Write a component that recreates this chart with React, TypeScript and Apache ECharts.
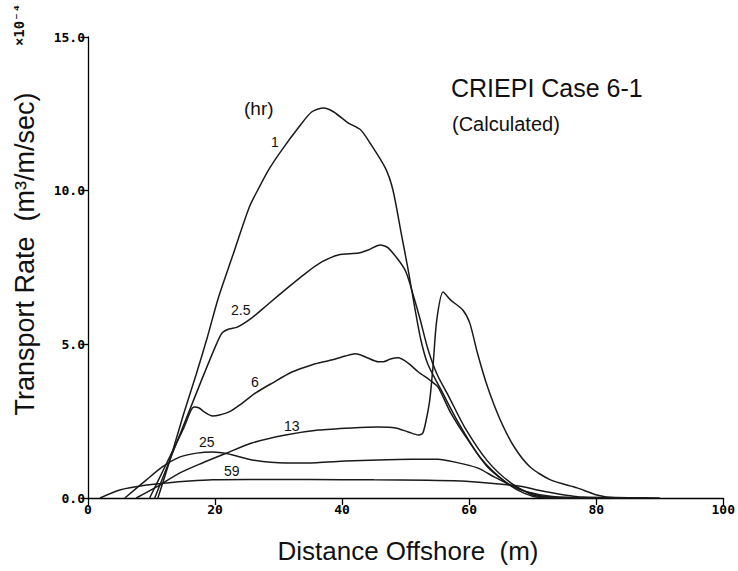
import React, { useEffect, useRef } from "react";
import * as echarts from "echarts";

const xTicks = [0, 20, 40, 60, 80, 100];
const yTicks = [0, 5, 10, 15];

const hr1: number[][] = [[11,0],[13,1.3],[15,2.7],[17,4.0],[18.8,5.24],[20.5,6.5],[22.7,7.84],[25.4,9.47],[26.9,10.09],[28.5,10.7],[30.5,11.32],[33.2,12.07],[35.2,12.56],[37.1,12.69],[38.7,12.56],[41,12.2],[42.9,11.98],[44.4,11.55],[46.8,10.74],[48,10.02],[49.3,8.62],[50.4,7.42],[51.5,6.12],[52.4,5.14],[53.5,4.35],[55.5,3.55],[58.3,2.45],[61.8,1.3],[65.8,0.5],[68.7,0.15],[71,0.02],[74,0]];
const hr2_5: number[][] = [[10.5,0],[13,1.3],[15.5,2.6],[18,3.9],[20.2,5.0],[21.1,5.37],[22.2,5.5],[23.5,5.56],[25.8,5.86],[28.2,6.28],[31.6,6.87],[34.3,7.32],[36.8,7.68],[39.4,7.91],[42.6,7.97],[44.1,8.07],[46,8.23],[47.3,8.13],[49.9,7.42],[51.2,6.6],[52.3,5.8],[53.5,4.85],[55,4.0],[56.8,3.3],[59.3,2.3],[62.9,1.2],[66.5,0.5],[70,0.1],[73,0.02],[77,0]];
const hr6: number[][] = [[9.7,0],[12.4,1.14],[15,2.25],[16.2,2.85],[16.7,2.96],[17.5,2.93],[18.3,2.8],[19.6,2.67],[20.7,2.7],[22.2,2.8],[24.3,3.09],[26.4,3.42],[29,3.74],[32.1,4.1],[35.2,4.33],[38.3,4.49],[40.5,4.62],[42.1,4.69],[43.7,4.59],[45.7,4.43],[46.5,4.43],[47.6,4.52],[48.8,4.56],[50.4,4.39],[52,4.1],[53.8,3.84],[55.1,3.61],[57.1,2.77],[59.8,1.89],[62.9,1.01],[66.5,0.42],[70.7,0.1],[74,0.01],[80,0]];
const hr13: number[][] = [[7.6,0],[10.8,0.36],[14.4,0.81],[18,1.14],[21.8,1.46],[25.8,1.79],[31.1,2.05],[36.3,2.21],[41.5,2.28],[45.7,2.31],[48.4,2.28],[50.4,2.15],[52,2.05],[52.7,2.11],[53.3,2.6],[53.8,3.19],[54.3,4.26],[54.9,5.79],[55.9,6.7],[57.1,6.44],[59,6.12],[60.1,5.69],[61.3,4.72],[62.9,3.61],[64.9,2.54],[67.1,1.66],[69.6,1.01],[72.8,0.59],[77,0.33],[80.1,0.1],[83,0.01],[88,0]];
const hr25: number[][] = [[5.8,0],[9.2,0.59],[11.7,1.01],[14.4,1.33],[17.1,1.46],[19.6,1.5],[22,1.44],[25.8,1.24],[31.1,1.14],[36,1.15],[40.5,1.2],[45.7,1.24],[50.9,1.26],[55.1,1.26],[57.7,1.17],[61.3,0.98],[64,0.68],[66.5,0.42],[69.2,0.2],[72.8,0.06],[78,0.01],[84,0]];
const hr59: number[][] = [[1.9,0],[5,0.26],[9.2,0.42],[12.4,0.49],[16,0.55],[19.6,0.59],[25,0.6],[35,0.6],[45,0.59],[53.5,0.58],[58.7,0.55],[62.9,0.49],[66.5,0.42],[68.7,0.36],[70.7,0.26],[75,0.1],[78,0.03],[85,0.01],[90,0]];

const seriesNames = ["1", "2.5", "6", "13", "25", "59"];
const seriesData = [hr1, hr2_5, hr6, hr13, hr25, hr59];

export default function App() {
  const ref = useRef<HTMLDivElement>(null);
  useEffect(() => {
    if (!ref.current) return;
    const chart = echarts.init(ref.current, null, { renderer: "svg" });
    const sans = "Liberation Sans";
    const mono = "DejaVu Sans Mono";
    chart.setOption({
      animation: false,
      backgroundColor: "#ffffff",
      grid: { left: 88, right: 11, top: 37, bottom: 73 },
      xAxis: {
        type: "value",
        min: 0,
        max: 100,
        interval: 20,
        axisLine: { show: true, onZero: false, lineStyle: { color: "#000", width: 1.3 } },
        axisTick: { show: true, length: 7, lineStyle: { color: "#000", width: 1.3 } },
        axisLabel: { color: "#000", fontFamily: mono, fontSize: 13, fontWeight: "bold", margin: 5,
          formatter: (v: number) => (xTicks.includes(v) ? String(v) : "") },
        splitLine: { show: false },
      },
      yAxis: {
        type: "value",
        min: 0,
        max: 15,
        interval: 5,
        axisLine: { show: true, onZero: false, lineStyle: { color: "#000", width: 1.3 } },
        axisTick: { show: true, length: 7, lineStyle: { color: "#000", width: 1.3 } },
        axisLabel: { color: "#000", fontFamily: mono, fontSize: 13, fontWeight: "bold", margin: 3,
          formatter: (v: number) => (yTicks.includes(v) ? v.toFixed(1) : "") },
        splitLine: { show: false },
      },
      series: seriesData.map((d, i) => ({
        name: seriesNames[i],
        type: "line",
        data: d,
        smooth: 0.25,
        showSymbol: false,
        lineStyle: { color: "#1a1a1a", width: 1.5 },
        z: 2,
      })),
      graphic: [
        { type: "text", left: 451, top: 75, style: { text: "CRIEPI Case 6-1", font: `25px "${sans}"`, fill: "#111" } },
        { type: "text", left: 452, top: 114, style: { text: "(Calculated)", font: `20px "${sans}"`, fill: "#111" } },
        { type: "text", left: 244, top: 99, style: { text: "(hr)", font: `19px "${sans}"`, fill: "#111" } },
        { type: "text", left: 271, top: 135, style: { text: "1", font: `14px "${sans}"`, fill: "#111" } },
        { type: "text", left: 231, top: 303, style: { text: "2.5", font: `14px "${sans}"`, fill: "#111" } },
        { type: "text", left: 251, top: 375, style: { text: "6", font: `14px "${sans}"`, fill: "#111" } },
        { type: "text", left: 284, top: 419, style: { text: "13", font: `14px "${sans}"`, fill: "#111" } },
        { type: "text", left: 199, top: 435, style: { text: "25", font: `14px "${sans}"`, fill: "#111" } },
        { type: "text", left: 224, top: 464, style: { text: "59", font: `14px "${sans}"`, fill: "#111" } },
        { type: "text", x: 25, y: 254, rotation: Math.PI / 2,
          style: { text: "Transport Rate  (m³/m/sec)", font: `27px "${sans}"`, fill: "#111", align: "center", verticalAlign: "middle" } },
        { type: "text", x: 19, y: 25, rotation: Math.PI / 2,
          style: { text: "×10⁻⁴", font: `bold 14px "${mono}"`, fill: "#111", align: "center", verticalAlign: "middle" } },
        { type: "text", x: 408, y: 551,
          style: { text: "Distance Offshore  (m)", font: `26px "${sans}"`, fill: "#111", align: "center", verticalAlign: "middle" } },
      ],
    });
    return () => chart.dispose();
  }, []);
  return <div ref={ref} style={{ width: 738, height: 571, position: "absolute", left: 0, top: 0 }} />;
}
